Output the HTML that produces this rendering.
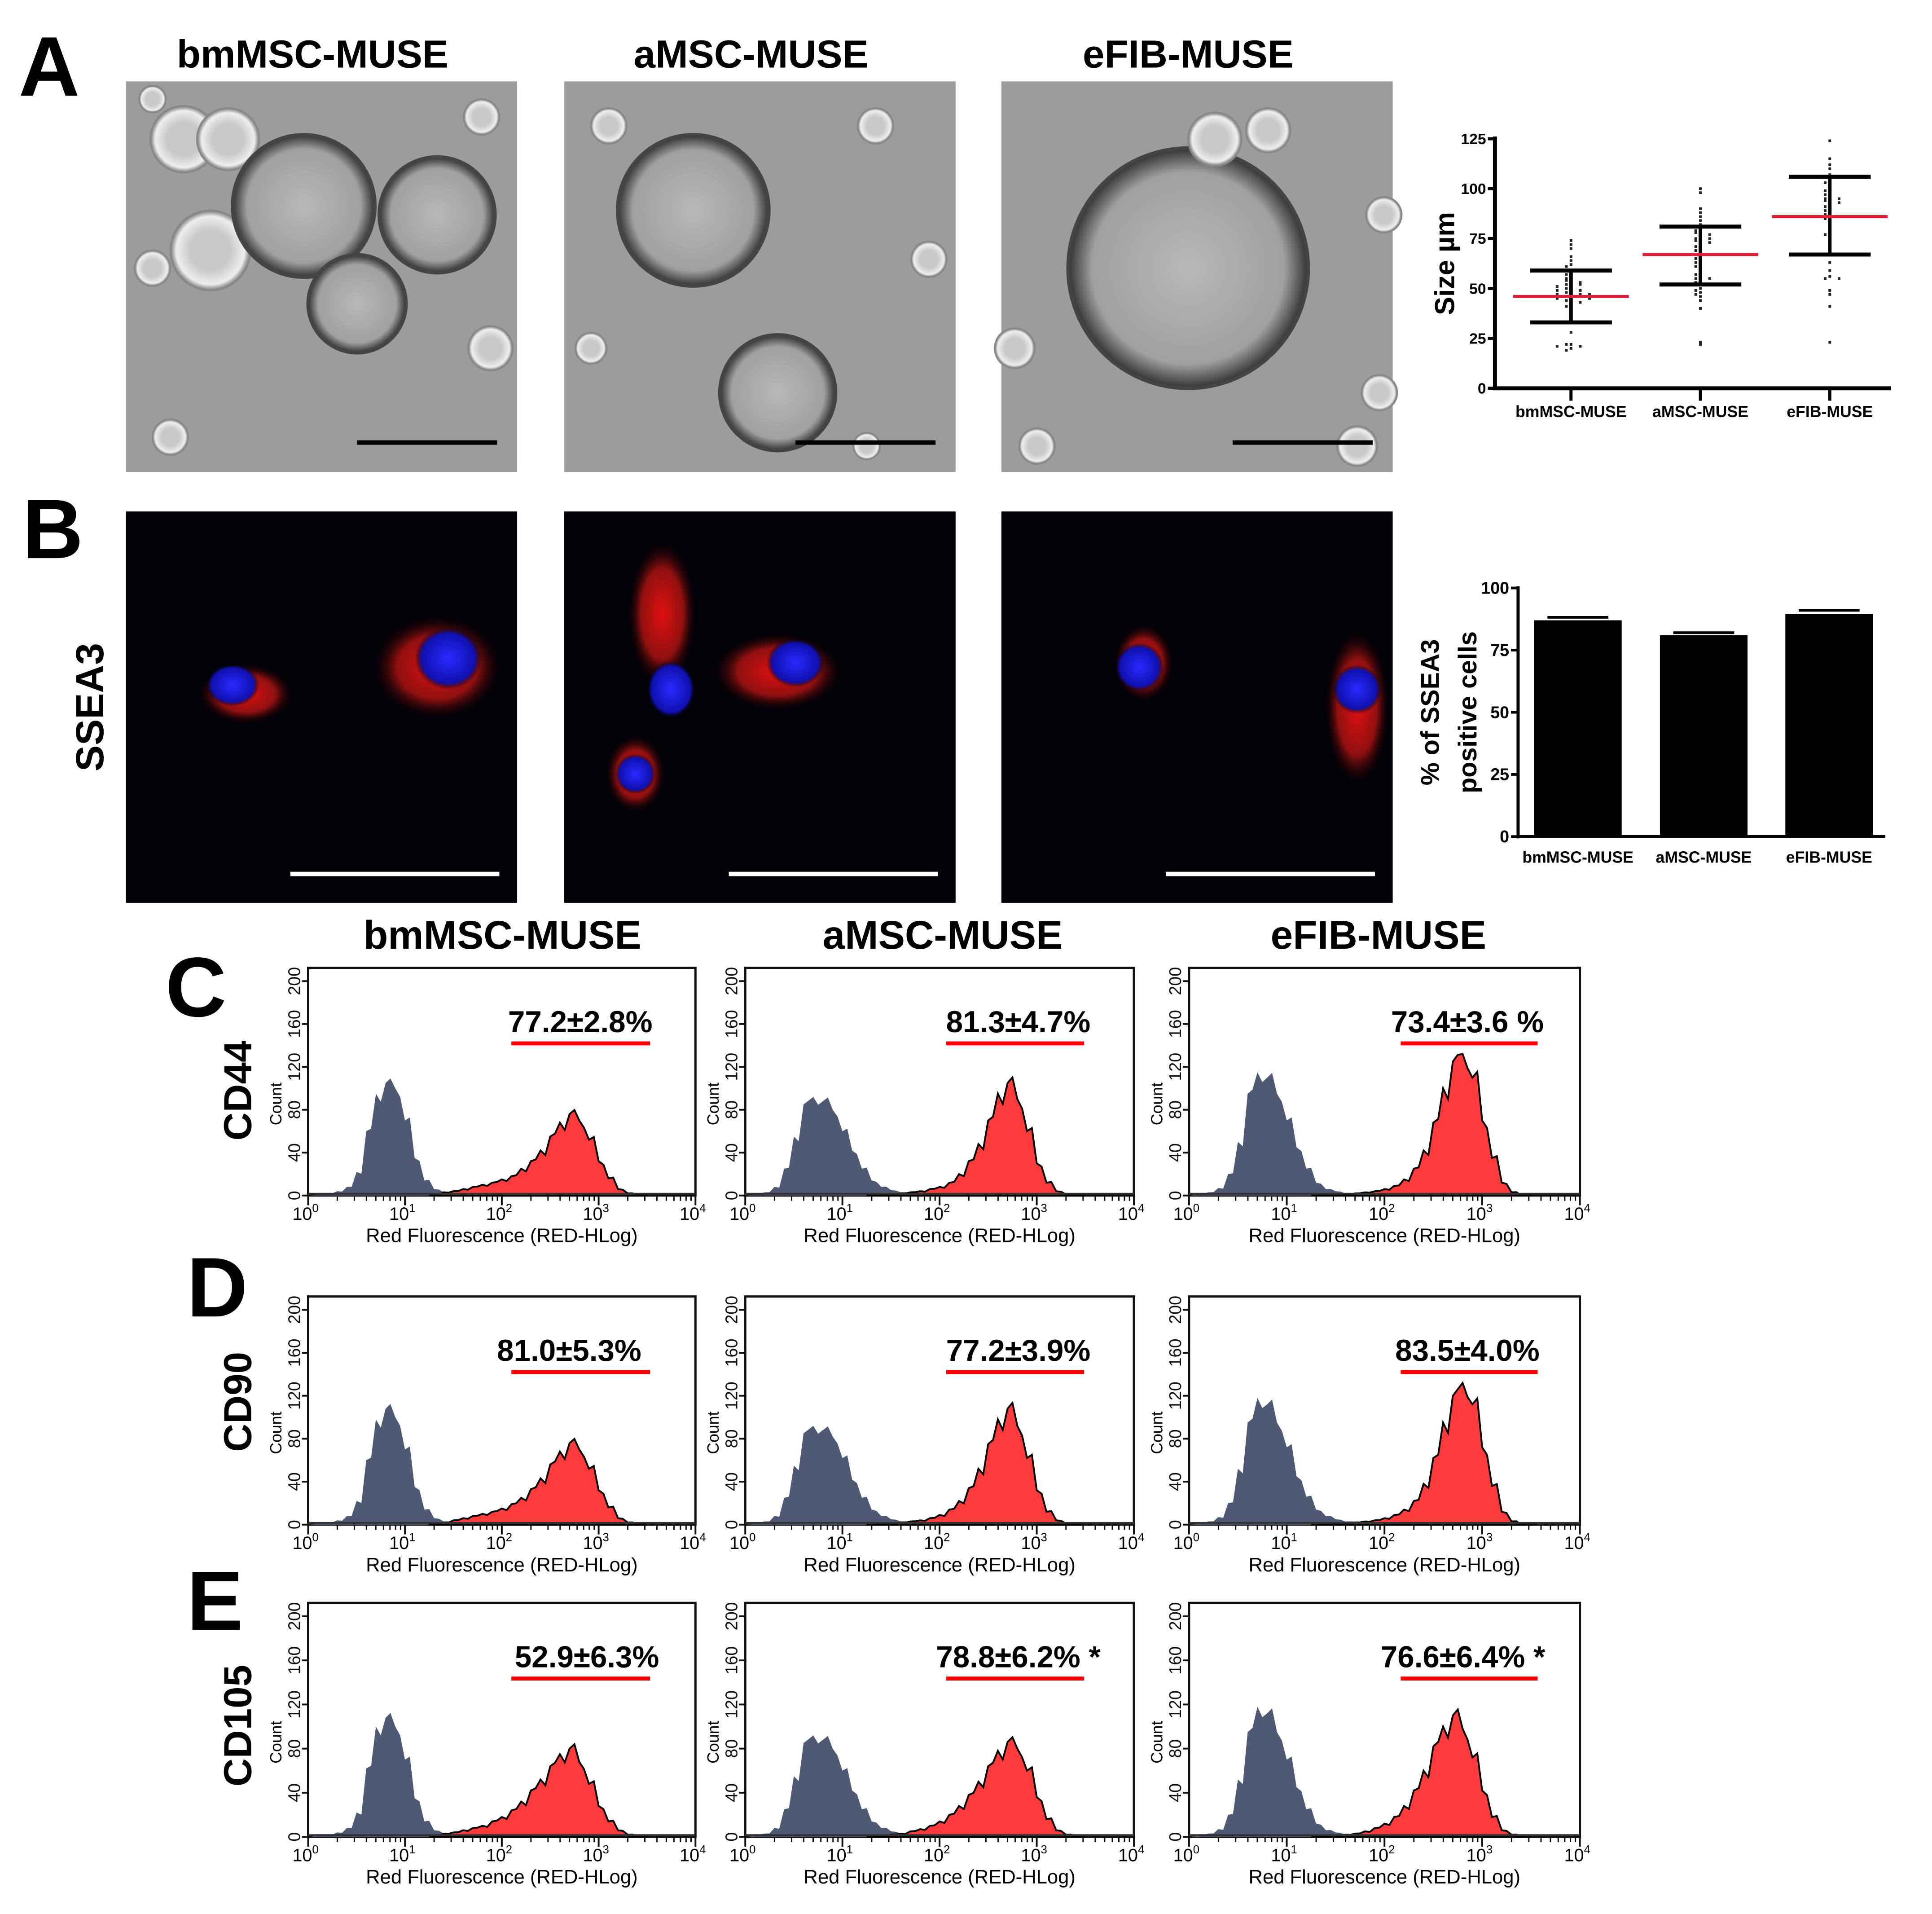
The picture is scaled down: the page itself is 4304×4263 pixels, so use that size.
<!DOCTYPE html>
<html><head><meta charset="utf-8"><style>
html,body{margin:0;padding:0;background:#fff}
svg{display:block}
text{font-family:"Liberation Sans",sans-serif}
</style></head><body>
<svg id="fig" xmlns="http://www.w3.org/2000/svg" width="4304" height="4263" viewBox="0 0 4304 4263">
<defs>
<radialGradient id="cellg" cx="50%" cy="50%" r="50%"><stop offset="0" stop-color="#b8b8b8"/><stop offset="0.8" stop-color="#a0a0a0"/><stop offset="1" stop-color="#333"/></radialGradient>
<radialGradient id="bub" cx="50%" cy="50%" r="50%"><stop offset="0.5" stop-color="#c8c8c8"/><stop offset="0.85" stop-color="#eee"/><stop offset="1" stop-color="#777"/></radialGradient>
<radialGradient id="redg" cx="50%" cy="50%" r="50%"><stop offset="0" stop-color="#e01010"/><stop offset="0.6" stop-color="#901010"/><stop offset="1" stop-color="#000" stop-opacity="0"/></radialGradient>
<radialGradient id="blueg" cx="50%" cy="50%" r="50%"><stop offset="0" stop-color="#2a2aff"/><stop offset="0.8" stop-color="#1010b0"/><stop offset="1" stop-color="#000" stop-opacity="0"/></radialGradient>
</defs>
<g id="root" transform="scale(0.9906)"></g>
</svg>
<script>
// ---------- data ----------
const groups = ["bmMSC-MUSE","aMSC-MUSE","eFIB-MUSE"];
const sizeTicks = [0,25,50,75,100,125];
const sizeBm = [74,72,70,66,64,62,61,59,58,57,56,55,54,54,53,52,52,52,51,50,50,49,49,48,48,47,47,47,46,46,46,45,45,44,44,43,42,41,40,28,22,22,21,21,20,19];
const sizeA = [100,98,90,88,86,84,82,80,79,78,78,77,76,75,75,74,74,73,72,71,70,69,68,67,67,66,65,64,63,62,61,60,58,57,56,55,55,54,53,50,49,48,47,46,44,40,23,22];
const sizeE = [124,115,112,110,107,105,104,103,101,100,99,98,97,96,95,95,94,94,93,92,91,90,89,88,87,86,85,80,78,77,75,70,63,59,56,55,55,49,47,41,23];
const sizeMean = [46,67,86];
const sizeSdLo = [33,52,67];
const sizeSdHi = [59,81,106];
const ssea3Ticks = [0,25,50,75,100];
const ssea3Vals = [87,81,89.5];
const ssea3Err = [1.2,1.0,1.5];
const markers = ["CD44","CD90","CD105"];
const pctLabels = [["77.2±2.8%","81.3±4.7%","73.4±3.6 %"],["81.0±5.3%","77.2±3.9%","83.5±4.0%"],["52.9±6.3%","78.8±6.2% *","76.6±6.4% *"]];
const countTicks = [0,40,80,120,160,200];
// gray (isotype) histogram bins: log10 from 0.2 step 0.1
const grayStart = 0.2;
const grayC = [[2,4,8,22,60,95,105,100,70,35,14,6,3,2,1],[3,8,25,55,85,92,88,80,60,42,25,14,8,5,3],[3,7,20,50,95,115,110,95,70,45,25,12,6,4,2]];
const grayD = [[2,4,8,22,60,98,108,100,70,35,14,6,3,2,1],[3,8,25,55,85,92,88,82,62,42,25,14,8,5,3],[3,7,20,52,95,118,112,95,72,45,26,14,8,5,3]];
const grayE = [[2,4,8,22,62,100,108,100,70,35,14,6,3,2,1],[3,8,25,55,85,92,88,80,60,42,25,14,8,5,3],[3,7,20,52,95,118,112,95,70,45,25,12,6,4,2]];
// red (marker) histogram bins: log10 from 1.3 step 0.1
const redStart = 1.3;
const redC = [[1,3,4,6,8,10,12,15,18,25,32,42,55,68,76,70,52,32,16,6,2,0],[0,1,1,2,3,4,6,8,12,20,32,48,70,95,105,90,60,30,12,4,1,0],[0,0,1,1,2,3,4,6,9,15,25,42,68,100,125,132,110,70,35,12,3,0]];
const redD = [[1,2,4,6,8,10,12,15,19,25,33,43,56,68,76,70,52,32,16,6,2,0],[0,1,1,2,3,4,6,9,14,22,34,52,75,98,108,92,62,32,12,4,1,0],[0,0,1,1,2,3,4,6,9,14,22,38,62,95,120,132,112,72,36,12,3,0]];
const redE = [[1,3,4,6,8,10,14,18,24,32,42,52,64,75,80,68,48,28,14,6,2,0],[0,1,2,3,5,7,10,14,20,28,38,50,64,78,86,80,60,36,16,6,2,0],[0,1,1,2,3,5,8,12,18,28,42,60,82,100,110,98,72,42,18,6,2,0]];
const grayAll = [grayC,grayD,grayE];
const redAll = [redC,redD,redE];

// ---------- helpers ----------
const NS="http://www.w3.org/2000/svg";
const root=document.getElementById('root');
function mk(tag,attrs,parent){const e=document.createElementNS(NS,tag);for(const k in attrs)e.setAttribute(k,attrs[k]);(parent||root).appendChild(e);return e;}
function txt(s,attrs,parent){const e=mk('text',attrs,parent);e.textContent=s;return e;}

// ---------- panel letters & titles ----------
const lettersDef=[["A",42,215],["B",50,1255],["C",372,2285],["D",420,2960],["E",420,3665]];
lettersDef.forEach(l=>{const t=txt(l[0],{x:l[1],y:l[2],'font-size':190,'font-weight':'bold'});

});
const photoX=[283,1269,2252];
groups.forEach((g,i)=>{const t=txt(g,{x:photoX[i]+420,y:152,'font-size':88,'font-weight':'bold','text-anchor':'middle'});

});

// ---------- Panel A photos ----------
const blobsA=[
 [[130,130,75],[230,130,70],[190,380,90],[400,280,160],[520,500,110],[700,300,130],[800,80,40],[60,420,40],[820,600,50],[100,800,40],[60,40,30]],
 [[290,290,170],[480,700,130],[100,100,40],[700,100,40],[60,600,35],[680,820,30],[820,400,40]],
 [[420,420,270],[480,130,60],[600,110,50],[80,820,40],[800,820,45],[850,700,40],[30,600,45],[860,300,40]]];
groups.forEach((g,i)=>{
 const grp=mk('g',{transform:`translate(${photoX[i]},183)`});
 
 
 mk('rect',{x:0,y:0,width:880,height:878,fill:'#9c9c9c'},grp);
 blobsA[i].forEach((b,j)=>{mk('circle',{cx:b[0],cy:b[1],r:b[2],fill:(b[2]>100?'url(#cellg)':'url(#bub)'),stroke:(b[2]>100?'#444':'#888'),'stroke-width':b[2]>100?8:4},grp);});
 const sb=mk('line',{x1:520,y1:812,x2:835,y2:812,stroke:'#000','stroke-width':10},grp);
 
 
});

// ---------- Panel B photos ----------
const cellsB=[
 [[[270,410,110,70,'r'],[240,390,60,48,'b'],[700,350,150,120,'r'],[725,330,75,70,'b']]],
 [[[220,230,80,170,'r'],[240,400,55,65,'b'],[480,360,150,90,'r'],[520,340,65,55,'b'],[160,590,70,90,'r'],[160,590,45,45,'b']]],
 [[[320,340,70,90,'r'],[310,350,55,55,'b'],[800,440,75,180,'r'],[800,400,55,55,'b']]]];
groups.forEach((g,i)=>{
 const grp=mk('g',{transform:`translate(${photoX[i]},1150)`});
 
 
 mk('rect',{x:0,y:0,width:880,height:880,fill:'#010108'},grp);
 cellsB[i][0].forEach(c=>{mk('ellipse',{cx:c[0],cy:c[1],rx:c[2],ry:c[3],fill:c[4]=='r'?'url(#redg)':'url(#blueg)'},grp);});
 const sb=mk('line',{x1:370,y1:815,x2:840,y2:815,stroke:'#fff','stroke-width':10},grp);
 
 
});
const sseaLbl=txt("SSEA3",{transform:'translate(232,1590) rotate(-90)','font-size':88,'font-weight':'bold','text-anchor':'middle'});



// ---------- Size scatter chart ----------
(function(){
 const g=mk('g',{});
 
 
 const X0=3362,X1=4253,Y0=873,Y1=312;
 const ys=v=>Y0-(v/125)*(Y0-Y1);
 const cx=[3533,3824,4115];
 mk('line',{x1:X0,y1:Y1-5,x2:X0,y2:Y0+4,stroke:'#000','stroke-width':9},g);
 mk('line',{x1:X0-4,y1:Y0,x2:X1,y2:Y0,stroke:'#000','stroke-width':9},g);
 sizeTicks.forEach(t=>{mk('line',{x1:X0-16,y1:ys(t),x2:X0,y2:ys(t),stroke:'#000','stroke-width':7},g);
  const l=txt(String(t),{x:X0-20,y:ys(t)+12,'font-size':34,'font-weight':'bold','text-anchor':'end'},g);
  
  });
 const yl=txt("Size µm",{transform:`translate(3270,${(Y0+Y1)/2}) rotate(-90)`,'font-size':62,'font-weight':'bold','text-anchor':'middle'},g);
 
 
 [sizeBm,sizeA,sizeE].forEach((arr,i)=>{
  mk('line',{x1:cx[i],y1:Y0,x2:cx[i],y2:Y0+28,stroke:'#000','stroke-width':7},g);
  const l=txt(groups[i],{x:cx[i],y:938,'font-size':36,'font-weight':'bold','text-anchor':'middle'},g);
  
  
  const cnt={};
  arr.forEach(v=>{const k=Math.round(v/2);cnt[k]=(cnt[k]||0)+1;const n=cnt[k];const off=(n%2?1:-1)*Math.ceil((n-1)/2)*16+(n%2?0:8);
   const p=mk('rect',{x:cx[i]+off*1.3-3,y:ys(v)-3,width:6,height:6,fill:'#222'},g);
   
   });
  const w=92;
  mk('line',{x1:cx[i],y1:ys(sizeSdLo[i]),x2:cx[i],y2:ys(sizeSdHi[i]),stroke:'#000','stroke-width':8},g);
  mk('line',{x1:cx[i]-w,y1:ys(sizeSdLo[i]),x2:cx[i]+w,y2:ys(sizeSdLo[i]),stroke:'#000','stroke-width':9},g);
  mk('line',{x1:cx[i]-w,y1:ys(sizeSdHi[i]),x2:cx[i]+w,y2:ys(sizeSdHi[i]),stroke:'#000','stroke-width':9},g);
  const m=mk('line',{x1:cx[i]-130,y1:ys(sizeMean[i]),x2:cx[i]+130,y2:ys(sizeMean[i]),stroke:'#e0203a','stroke-width':7},g);
  
  
 });
})();

// ---------- SSEA3 bar chart ----------
(function(){
 const g=mk('g',{});
 
 
 const X0=3414,X1=4240,Y0=1881,Y1=1322;
 const ys=v=>Y0-(v/100)*(Y0-Y1);
 const bx=[3450,3733,4015],bw=197;
 mk('line',{x1:X0,y1:Y1-4,x2:X0,y2:Y0+4,stroke:'#000','stroke-width':7},g);
 mk('line',{x1:X0-4,y1:Y0,x2:X1,y2:Y0,stroke:'#000','stroke-width':7},g);
 ssea3Ticks.forEach(t=>{mk('line',{x1:X0-16,y1:ys(t),x2:X0,y2:ys(t),stroke:'#000','stroke-width':6},g);
  const l=txt(String(t),{x:X0-20,y:ys(t)+13,'font-size':38,'font-weight':'bold','text-anchor':'end'},g);
  
  });
 ssea3Vals.forEach((v,i)=>{
  const b=mk('rect',{x:bx[i],y:ys(v),width:bw,height:Y0-ys(v),fill:'#000'},g);
  
  
  mk('line',{x1:bx[i]+30,y1:ys(v+ssea3Err[i]),x2:bx[i]+bw-30,y2:ys(v+ssea3Err[i]),stroke:'#000','stroke-width':6},g);
  const l=txt(groups[i],{x:bx[i]+bw/2,y:1940,'font-size':36,'font-weight':'bold','text-anchor':'middle'},g);
  
  
 });
 const yl=txt("% of SSEA3",{transform:`translate(3236,${(Y0+Y1)/2}) rotate(-90)`,'font-size':58,'font-weight':'bold','text-anchor':'middle'},g);
 
 
 const yl2=txt("positive cells",{transform:`translate(3320,${(Y0+Y1)/2}) rotate(-90)`,'font-size':58,'font-weight':'bold','text-anchor':'middle'},g);
 
 
})();

// ---------- Histograms ----------
const hx0=[693,1676,2674],hx1=[1564,2550,3553];
const htop=[2176,2915,3604],hbot=[2688,3428,4130];
const colHdrX=[1130,2120,3100];
groups.forEach((gname,i)=>{const t=txt(gname,{x:colHdrX[i],y:2133,'font-size':90,'font-weight':'bold','text-anchor':'middle'});
 
 });
const rowLblY=[2452,3152,3880];
markers.forEach((m,r)=>{const t=txt(m,{transform:`translate(565,${rowLblY[r]}) rotate(-90)`,'font-size':88,'font-weight':'bold','text-anchor':'middle'});
 
 });
const pctX=[[1305,2290,3300],[1280,2290,3300],[1320,2290,3290]];
const ulX=[[1150,1462],[2128,2438],[3150,3458]];
for(let r=0;r<3;r++)for(let c=0;c<3;c++){
 const g=mk('g',{});
 
 
 const X0=hx0[c],X1=hx1[c],T=htop[r],B=hbot[r];
 const xs=l=>X0+(l/4)*(X1-X0);
 const ys=v=>B-(v/200)*(B-T-30);
 mk('rect',{x:X0,y:T,width:X1-X0,height:B-T,fill:'none',stroke:'#111','stroke-width':5},g);
 const gray=grayAll[r][c];
 let d=`M${xs(0.02)},${B} L${xs(grayStart-0.1)},${ys(1)} `;
 gray.forEach((v,k)=>{const l=grayStart+k*0.1;d+=`L${xs(l)},${ys(v)} L${xs(l+0.05)},${ys(v*(k%2?0.92:1.04))} `;});
 d+=`L${xs(2.2)},${ys(1)} L${xs(2.2)},${B} Z`;
 const gp=mk('path',{d:d,fill:'#4e5a74'},g);
 
 
 const red=redAll[r][c];
 let rd=`M${xs(redStart-0.05)},${B} `;
 red.forEach((v,k)=>{const l=redStart+k*0.1;rd+=`L${xs(l)},${ys(v)} L${xs(l+0.05)},${ys(v*(k%2?0.9:1.05))} `;});
 rd+=`L${xs(redStart+red.length*0.1)},${B} Z`;
 const rp=mk('path',{d:rd,fill:'#ff3b3b',stroke:'#000','stroke-width':4},g);
 
 
 mk('line',{x1:X0,y1:B-4,x2:X1,y2:B-4,stroke:'#333','stroke-width':4},g);
 countTicks.forEach(t=>{mk('line',{x1:X0-14,y1:ys(t),x2:X0,y2:ys(t),stroke:'#111','stroke-width':4},g);
  const l=txt(String(t),{transform:`translate(${X0-18},${ys(t)}) rotate(-90)`,'font-size':38,'text-anchor':'middle',fill:'#111'},g);
  
  });
 const cl=txt("Count",{transform:`translate(${X0-60},${(T+B)/2+50}) rotate(-90)`,'font-size':36,'text-anchor':'middle'},g);
 
 
 for(let dec=0;dec<=4;dec++){
  mk('line',{x1:xs(dec),y1:B,x2:xs(dec),y2:B+22,stroke:'#111','stroke-width':4},g);
  const l=txt("10",{x:xs(dec)-6,y:B+55,'font-size':40,'text-anchor':'middle'},g);
  const sp=mk('tspan',{dy:-18,'font-size':26},l);sp.textContent=String(dec);
  
  
  if(dec<4)for(let m=2;m<10;m++){const lx=xs(dec+Math.log10(m));mk('line',{x1:lx,y1:B,x2:lx,y2:B+12,stroke:'#111','stroke-width':3},g);}
 }
 const xl=txt("Red Fluorescence (RED-HLog)",{x:(X0+X1)/2,y:B+105,'font-size':44,'text-anchor':'middle'},g);
 
 
 const pl=txt(pctLabels[r][c],{x:pctX[r][c],y:T+145,'font-size':68,'font-weight':'bold','text-anchor':'middle'},g);
 
 
 const ul=mk('line',{x1:ulX[c][0],y1:T+170,x2:ulX[c][1],y2:T+170,stroke:'#f00','stroke-width':9},g);
 
 
}
</script>
</body></html>
